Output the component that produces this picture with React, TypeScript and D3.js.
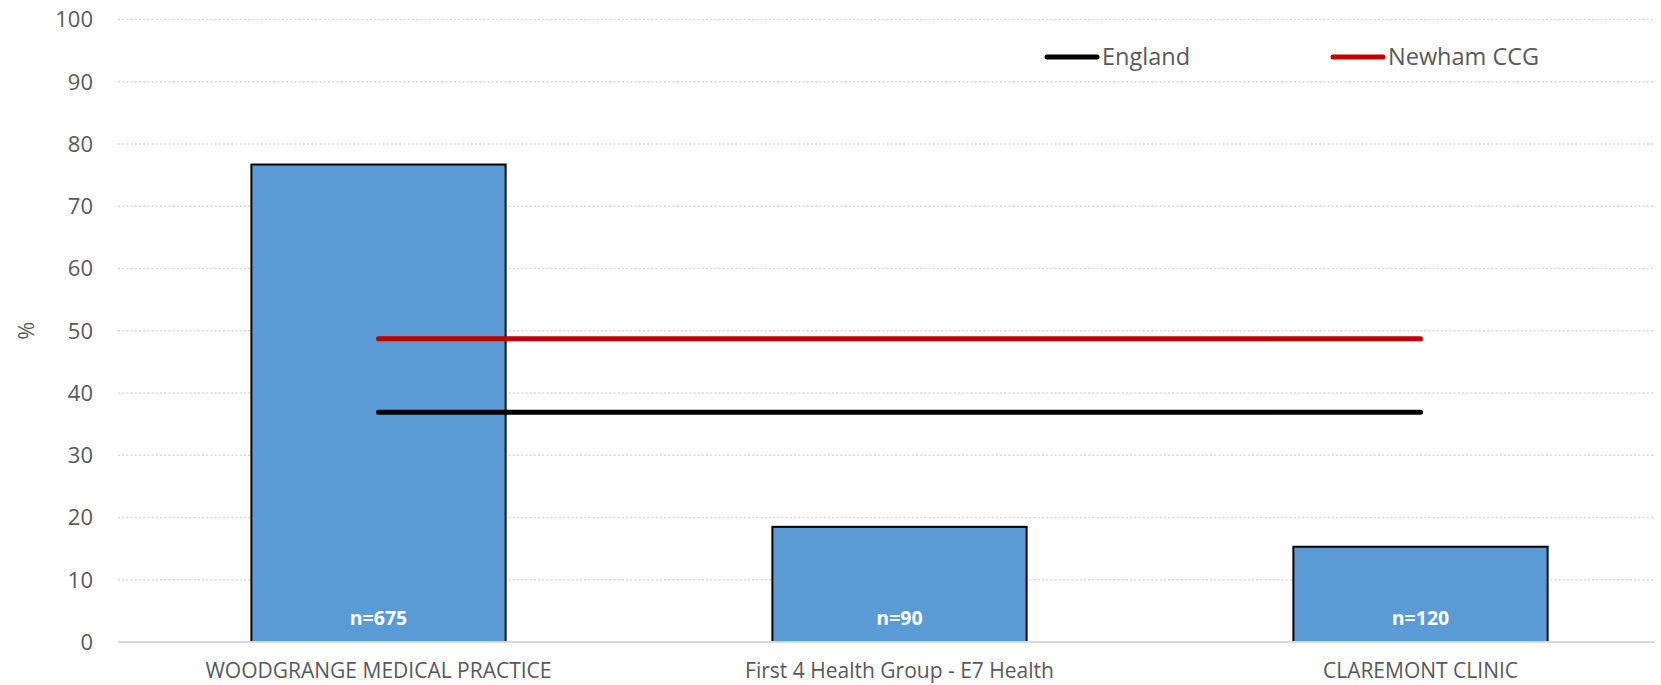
import React from "react";
import * as d3 from "d3";

const categories = ["WOODGRANGE MEDICAL PRACTICE", "First 4 Health Group - E7 Health", "CLAREMONT CLINIC"];
const values = [76.7, 18.5, 15.3];
const nLabels = ["n=675", "n=90", "n=120"];
const englandValue = 36.9;
const newhamValue = 48.7;
const yTicks = [0, 10, 20, 30, 40, 50, 60, 70, 80, 90, 100];

const W = 1661;
const H = 685;
const FONT = "'Open Sans', 'Liberation Sans', sans-serif";
const TXT = "#595959";

export default function App() {
  const x = d3.scaleBand<string>().domain(categories).range([118, 118 + 3 * 521]).paddingInner(0.512).paddingOuter(0.256);
  const y = d3.scaleLinear().domain([0, 100]).range([642, 19.5]);
  const bw = x.bandwidth();
  const xc = (c: string) => (x(c) as number) + bw / 2;
  const lineX1 = xc(categories[0]);
  const lineX2 = xc(categories[categories.length - 1]);
  const refLine = d3.line<[number, number]>().x((d) => d[0]).y((d) => d[1]);

  return (
    <svg width={W} height={H} style={{ position: "absolute", left: 0, top: 0, display: "block" }} fontFamily={FONT}>
      <rect width={W} height={H} fill="#fff" />
      {yTicks.map((t) => (
        <g key={t}>
          {t > 0 && (
            <line x1={118} x2={1655} y1={y(t)} y2={y(t)} stroke="#d9d9d9" strokeWidth={1.3} strokeDasharray="2,2.2" />
          )}
          <text x={93} y={y(t)} dy="0.36em" textAnchor="end" fontSize={22} fill={TXT}>
            {t}
          </text>
        </g>
      ))}
      <text transform={`translate(34,${y(50)}) rotate(-90)`} textAnchor="middle" fontSize={22} fill={TXT}>
        %
      </text>
      {categories.map((c, i) => (
        <g key={c}>
          <rect x={x(c)} y={y(values[i])} width={bw} height={y(0) - y(values[i])} fill="#5B9BD5" stroke="#000" strokeWidth={2} />
          <text x={xc(c)} y={y(0) - 17} textAnchor="middle" fontSize={19.5} fontWeight="bold" fill="#fff">
            {nLabels[i]}
          </text>
          <text x={xc(c)} y={678} textAnchor="middle" fontSize={21} fill={TXT}>
            {c}
          </text>
        </g>
      ))}
      <line x1={118} x2={1655} y1={y(0)} y2={y(0)} stroke="#d9d9d9" strokeWidth={2} />
      <path d={refLine([[lineX1, y(englandValue)], [lineX2, y(englandValue)]]) as string} stroke="#000" strokeWidth={5} strokeLinecap="round" fill="none" />
      <path d={refLine([[lineX1, y(newhamValue)], [lineX2, y(newhamValue)]]) as string} stroke="#C00000" strokeWidth={5} strokeLinecap="round" fill="none" />
      <g>
        <line x1={1047} x2={1097} y1={57} y2={57} stroke="#000" strokeWidth={5} strokeLinecap="round" />
        <text x={1102} y={57} dy="0.36em" fontSize={23.5} fill={TXT}>England</text>
        <line x1={1333} x2={1383} y1={57} y2={57} stroke="#C00000" strokeWidth={5} strokeLinecap="round" />
        <text x={1388} y={57} dy="0.36em" fontSize={23.5} fill={TXT}>Newham CCG</text>
      </g>
    </svg>
  );
}
